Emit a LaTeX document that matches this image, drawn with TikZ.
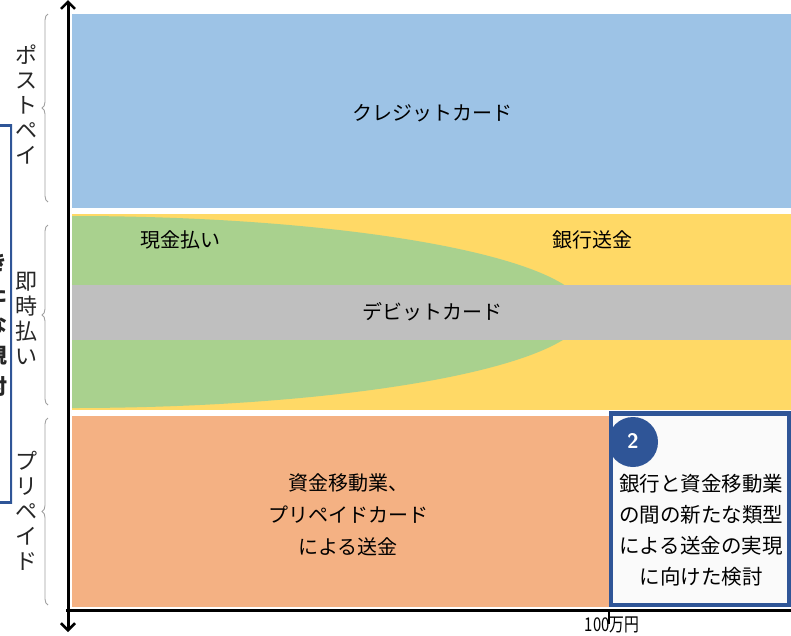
\documentclass[tikz,border=0pt]{standalone}
\usepackage{fontspec}
\setmainfont{Noto Sans CJK JP}
\newfontfamily\numfont[FakeStretch=0.78]{Noto Sans CJK JP}
\usetikzlibrary{arrows.meta,decorations.pathreplacing}
\definecolor{cblue}{HTML}{9DC3E6}
\definecolor{cyellow}{HTML}{FFD966}
\definecolor{cgreen}{HTML}{A9D18E}
\definecolor{cgray}{HTML}{BFBFBF}
\definecolor{corange}{HTML}{F4B183}
\definecolor{dblue}{HTML}{2F5597}
\definecolor{bracegray}{HTML}{A0A0A0}
\tikzset{
  lab/.style={font=\fontsize{20}{22}\selectfont, text=black, inner sep=0pt},
  vlab/.style={font=\fontsize{22}{25}\selectfont, text=black!85, inner sep=0pt, align=center},
  brace/.style={draw=bracegray, line width=0.9pt, decorate, decoration={brace, amplitude=6pt}},
  axis/.style={line width=3pt, draw=black},
}
\begin{document}
\begin{tikzpicture}[x=1pt,y=-1pt]
\useasboundingbox (0,0) rectangle (791,635);
% bands
\fill[cblue] (72,14) rectangle (791,208);
\fill[cyellow] (72,214) rectangle (791,410);
\fill[cgreen] (72,216) arc[start angle=-90, end angle=90, x radius=513, y radius=96] -- cycle;
\fill[cgray] (72,285) rectangle (791,340);
\fill[corange] (72,416) rectangle (611,607);
% labels in bands
\node[lab] (cc) at (432,113) {クレジットカード};
\node[lab] (cash) at (180,240) {現金払い};
\node[lab] (bank) at (592,240) {銀行送金};
\node[lab] (debit) at (432,312) {デビットカード};
\node[lab, align=center, font=\fontsize{20}{32}\selectfont] (fund) at (348,515) {資金移動業、\\プリペイドカード\\による送金};
% box 2
\node[draw=dblue, line width=3pt, fill=white!98!black, minimum width=177pt, minimum height=190pt, inner sep=0pt] (box2) at (700,509) {};
\begin{scope}
\clip (box2.north west) rectangle (box2.south east);
\fill[dblue] (633,442) circle[radius=25];
\end{scope}
\draw[dblue, line width=3pt] (box2.north west) rectangle (box2.south east);
\node[text=white, font=\sffamily\bfseries\fontsize{21}{22}\selectfont, inner sep=0pt] (two) at (633,441) {2};
\node[lab, align=center, font=\fontsize{20.5}{31}\selectfont] (boxtxt) at (701,530) {銀行と資金移動業\\の間の新たな類型\\による送金の実現\\に向けた検討};
% left clipped box
\begin{scope}
\clip (-5,120) rectangle (12,506);
\node[draw=dblue, line width=3pt, fill=white, minimum width=200pt, minimum height=377pt] (lbox) at (-89,314) {};
\node[vlab, font=\bfseries\fontsize{21}{31}\selectfont, anchor=center] (ltxt) at (-3,325) {き\\た\\な\\規\\討};
\end{scope}
% axes
\coordinate (ytop) at (68,0);
\coordinate (ybot) at (68,632);
\coordinate (xl) at (66,610);
\coordinate (xr) at (791,610);
\draw[axis, -{Straight Barb[length=7pt,width=14pt,line width=2.5pt]}] (68,318) -- (ytop);
\draw[axis, -{Straight Barb[length=7pt,width=14pt,line width=2.5pt]}] (68,318) -- (ybot);
\draw[axis] (xl) -- (xr);
\coordinate (tick) at (609,610);
\draw[line width=1.5pt] (tick) -- ++(0,14);
\node[font=\numfont\fontsize{19}{20}\selectfont, anchor=north, inner sep=0pt] (hm) at (612,617) {100万円};
% braces
\draw[brace] (48,202) -- (48,14);
\draw[brace] (48,405) -- (48,225);
\draw[brace] (48,605) -- (48,418);
\node[vlab] (post) at (26,104) {ポ\\ス\\ト\\ペ\\イ};
\node[vlab] (imm) at (26,318) {即\\時\\払\\い};
\node[vlab] (pre) at (26,511) {プ\\リ\\ペ\\イ\\ド};
\end{tikzpicture}
\end{document}
